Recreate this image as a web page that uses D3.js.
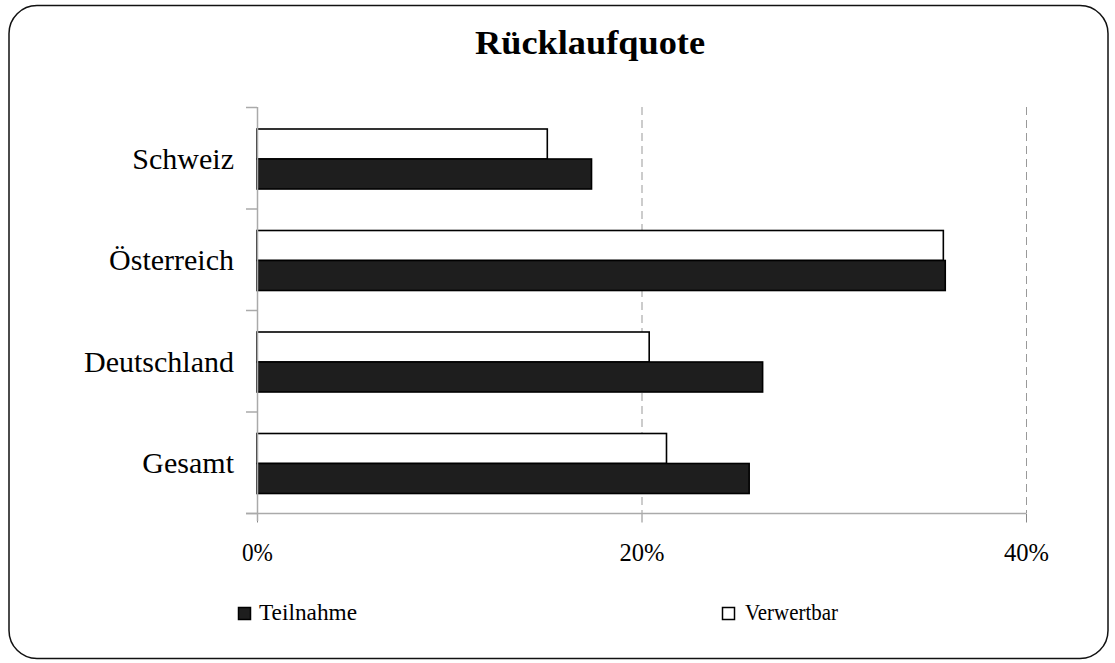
<!DOCTYPE html>
<html>
<head>
<meta charset="utf-8">
<script src="https://cdn.jsdelivr.net/npm/d3@7"></script>
<style>
  html, body { margin: 0; padding: 0; background: #fff; }
  svg { display: block; }
  text { font-family: "Liberation Serif", "Times New Roman", serif; fill: #000; }
</style>
</head>
<body>
<svg id="chart" width="1115" height="663"></svg>
<script>
// Response rates per country (percent)
const categories = ["Schweiz", "Österreich", "Deutschland", "Gesamt"];
const seriesNames = ["Verwertbar", "Teilnahme"];
const verwertbar = [15.1, 35.7, 20.4, 21.3];
const teilnahme = [17.4, 35.8, 26.3, 25.6];
const xTicks = [0, 20, 40];
const titleText = "Rücklaufquote";

const svg = d3.select("#chart");

// outer rounded frame
svg.append("rect")
  .attr("x", 9).attr("y", 5.5)
  .attr("width", 1099).attr("height", 653)
  .attr("rx", 28).attr("ry", 28)
  .attr("fill", "#fff")
  .attr("stroke", "#111")
  .attr("stroke-width", 1.5);

const x = d3.scaleLinear().domain([0, 40]).range([257, 1026]);
const y = d3.scaleBand().domain(categories).range([107, 513]).padding(0);
const inner = d3.scaleBand().domain(seriesNames).range([22, 82]).padding(0);

const colors = { Verwertbar: "#ffffff", Teilnahme: "#1e1e1e" };

// dashed vertical gridlines
svg.append("g")
  .selectAll("line")
  .data(xTicks.filter(d => d > 0))
  .join("line")
  .attr("x1", d => x(d) + 0.5).attr("x2", d => x(d) + 0.5)
  .attr("y1", 107).attr("y2", 513)
  .attr("stroke", "#999")
  .attr("stroke-width", 1)
  .attr("stroke-dasharray", "8,5");

// bars
const rows = categories.map((c, i) => ({
  cat: c,
  values: [
    { name: "Verwertbar", value: verwertbar[i] },
    { name: "Teilnahme", value: teilnahme[i] }
  ]
}));

const groups = svg.append("g")
  .selectAll("g")
  .data(rows)
  .join("g")
  .attr("transform", d => `translate(0,${y(d.cat)})`);

groups.selectAll("rect")
  .data(d => d.values)
  .join("rect")
  .attr("x", x(0))
  .attr("y", d => inner(d.name))
  .attr("width", d => x(d.value) - x(0))
  .attr("height", inner.bandwidth())
  .attr("fill", d => colors[d.name])
  .attr("stroke", "#000")
  .attr("stroke-width", 1.6);

// x axis
const xAxis = d3.axisBottom(x)
  .tickValues(xTicks)
  .tickSize(9)
  .tickFormat(d => d + "%");

const gx = svg.append("g")
  .attr("transform", "translate(0,513.5)")
  .call(xAxis);
gx.select(".domain").remove();
gx.append("line")
  .attr("x1", 246).attr("x2", x(40))
  .attr("y1", 0).attr("y2", 0)
  .attr("stroke", "#aaa").attr("stroke-width", 1.5);
gx.selectAll(".tick line").attr("stroke", "#888").attr("stroke-width", 1);
gx.selectAll(".tick text")
  .attr("y", 0)
  .attr("dy", 47)
  .attr("textLength", d => d === 0 ? 31 : 45)
  .attr("lengthAdjust", "spacingAndGlyphs")
  .style("font-family", '"Liberation Serif", "Times New Roman", serif')
  .style("font-size", "26px")
  .attr("fill", "#000");

// y axis
const yAxis = d3.axisLeft(y).tickSize(0).tickFormat("");
const gy = svg.append("g")
  .attr("transform", `translate(${x(0)},0)`)
  .call(yAxis);
gy.select(".domain").attr("stroke", "#aaa").attr("stroke-width", 1.5)
  .attr("d", "M0.5,107V521");
// band boundary ticks
svg.append("g")
  .selectAll("line")
  .data(categories.map(c => y(c)).concat([y.range()[1]]))
  .join("line")
  .attr("x1", 246).attr("x2", x(0))
  .attr("y1", d => d + 0.5).attr("y2", d => d + 0.5)
  .attr("stroke", "#aaa").attr("stroke-width", 1.5);

// category labels
svg.append("g")
  .selectAll("text")
  .data(categories)
  .join("text")
  .attr("x", 234)
  .attr("y", d => y(d) + y.bandwidth() / 2 + 11)
  .attr("text-anchor", "end")
  .style("font-size", "30px")
  .text(d => d);

// title
svg.append("text")
  .attr("x", 590).attr("y", 54)
  .attr("text-anchor", "middle")
  .style("font-size", "34px")
  .style("font-weight", "bold")
  .attr("textLength", 230)
  .attr("lengthAdjust", "spacingAndGlyphs")
  .text(titleText);

// legend
const legendItems = [
  { name: "Teilnahme", x: 238, w: 98 },
  { name: "Verwertbar", x: 722, w: 93 }
];
const lg = svg.append("g")
  .selectAll("g")
  .data(legendItems)
  .join("g")
  .attr("transform", d => `translate(${d.x},0)`);
lg.append("rect")
  .attr("x", 0.5).attr("y", 607.5)
  .attr("width", 12).attr("height", 12)
  .attr("fill", d => colors[d.name])
  .attr("stroke", "#000").attr("stroke-width", 1.5);
lg.append("text")
  .attr("x", d => d.name === "Teilnahme" ? 21 : 23)
  .attr("y", 620)
  .style("font-size", "24px")
  .attr("textLength", d => d.w)
  .attr("lengthAdjust", "spacingAndGlyphs")
  .text(d => d.name);
</script>
</body>
</html>
